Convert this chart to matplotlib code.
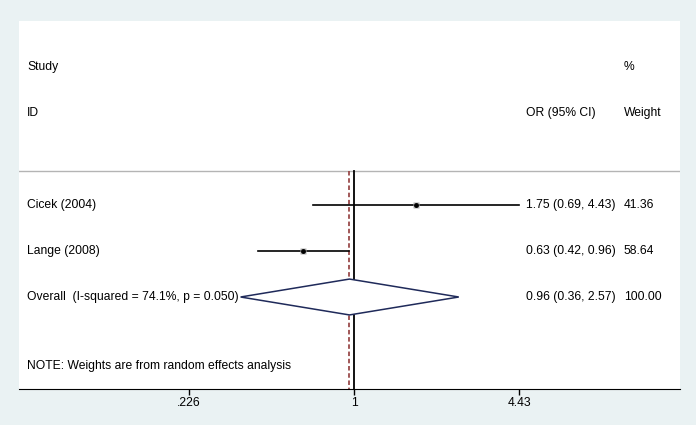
import numpy as np
import matplotlib
matplotlib.use('Agg')
import matplotlib.pyplot as plt
from matplotlib.transforms import blended_transform_factory
from matplotlib.patches import Polygon

plt.rcParams['font.family'] = ['Liberation Sans', 'DejaVu Sans']

# data
studies = ['Cicek (2004)', 'Lange (2008)']
or_est = [1.75, 0.63]
ci_low = [0.69, 0.42]
ci_high = [4.43, 0.96]
weights = [41.36, 58.64]
overall_label = 'Overall  (I-squared = 74.1%, p = 0.050)'
overall = [0.96, 0.36, 2.57]
overall_weight = 100.00
xticks = [0.226, 1, 4.43]
xtick_labels = ['.226', '1', '4.43']

W, H = 696, 425
fig = plt.figure(figsize=(W / 100, H / 100), dpi=100, facecolor='#EAF2F3')
ax = fig.add_axes([19 / W, 1 - 389 / H, (680 - 19) / W, (389 - 21) / H])
ax.set_facecolor('white')
ax.set_xscale('log')
ax.set_xlim(np.exp(-3.018), np.exp(2.937))
ax.set_ylim(4.0, -4.0)

tx = blended_transform_factory(fig.transFigure, ax.transData)
fs = 8.7
col_or = 526 / W
col_w = 624 / W
col_lbl = 27 / W

# headers
ax.text(col_lbl, -3, 'Study', transform=tx, fontsize=fs, va='center')
ax.text(col_lbl, -2, 'ID', transform=tx, fontsize=fs, va='center')
ax.text(col_w, -3, '%', transform=tx, fontsize=fs, va='center')
ax.text(col_w, -2, 'Weight', transform=tx, fontsize=fs, va='center')
ax.text(col_or, -2, 'OR (95% CI)', transform=tx, fontsize=fs, va='center')
ax.axhline(-0.74, color='#b4b4b4', lw=1)

# null line and overall line
ax.plot([1, 1], [-0.74, 4.0], color='black', lw=1.3)
ax.plot([overall[0], overall[0]], [-0.74, 4.0], color='#9a4a4a', lw=1.3,
        ls=(0, (2.5, 1.5)))

for i, s in enumerate(studies):
    ax.plot([ci_low[i], ci_high[i]], [i, i], color='black', lw=1.2)
    ax.plot(or_est[i], i, marker='s', ms=np.sqrt(weights[i]) * 0.6,
            color='#b0b0b0', mec='none')
    ax.plot(or_est[i], i, marker='o', ms=2.5, color='black')
    ax.text(col_lbl, i, s, transform=tx, fontsize=fs, va='center')
    ax.text(col_or, i, f'{or_est[i]:.2f} ({ci_low[i]:.2f}, {ci_high[i]:.2f})',
            transform=tx, fontsize=fs, va='center')
    ax.text(col_w, i, f'{weights[i]:.2f}', transform=tx, fontsize=fs, va='center')

yo = len(studies)
dia = Polygon([(overall[1], yo), (overall[0], yo - 0.39), (overall[2], yo),
               (overall[0], yo + 0.39)], closed=True, facecolor='white',
              edgecolor='#1f2a5a', lw=1.1, zorder=3)
ax.add_patch(dia)
ax.text(col_lbl, yo, overall_label, transform=tx, fontsize=fs, va='center')
ax.text(col_or, yo, f'{overall[0]:.2f} ({overall[1]:.2f}, {overall[2]:.2f})',
        transform=tx, fontsize=fs, va='center')
ax.text(col_w, yo, f'{overall_weight:.2f}', transform=tx, fontsize=fs, va='center')
ax.text(col_lbl, 3.5, 'NOTE: Weights are from random effects analysis',
        transform=tx, fontsize=fs, va='center')

for sp in ['top', 'left', 'right']:
    ax.spines[sp].set_visible(False)
ax.spines['bottom'].set_color('black')
ax.set_yticks([])
ax.set_xticks(xticks)
ax.set_xticklabels(xtick_labels, fontsize=fs)
ax.xaxis.set_minor_locator(matplotlib.ticker.NullLocator())
ax.tick_params(axis='x', length=4, width=1, pad=2)

fig.savefig('out.png', dpi=100, facecolor=fig.get_facecolor())
